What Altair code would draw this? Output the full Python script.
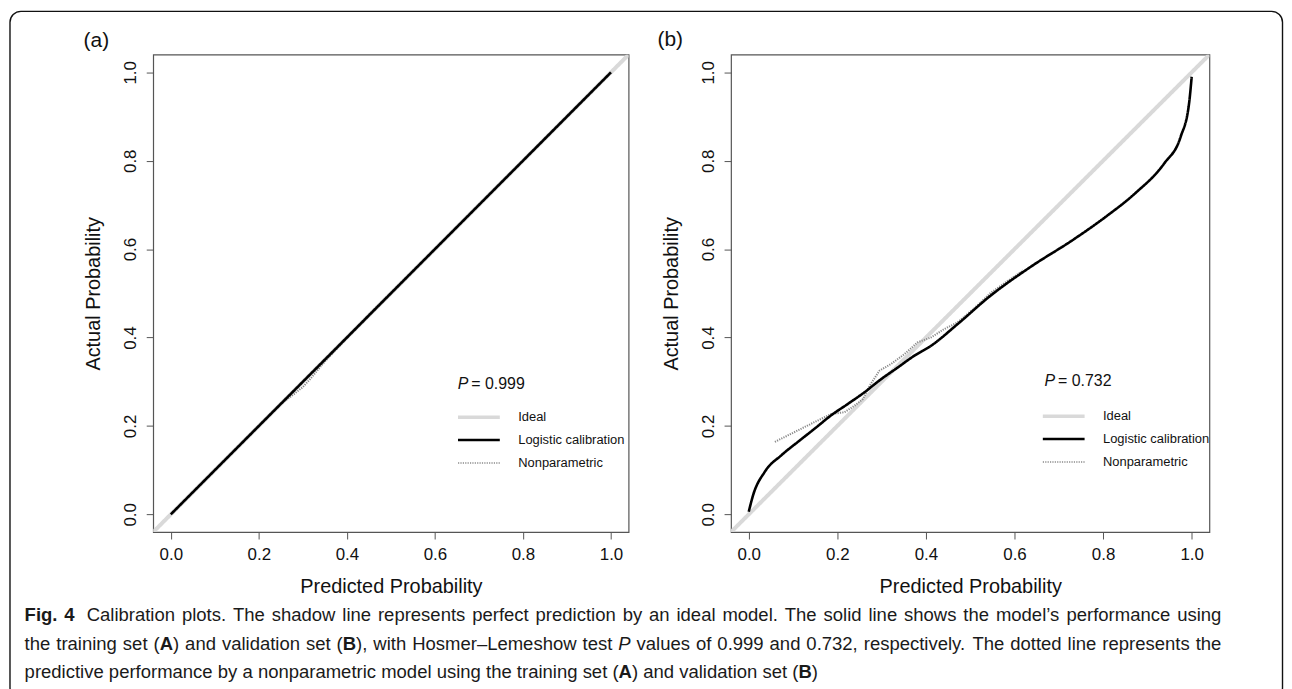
import re
import altair as alt
import pandas as pd

FONT = "Liberation Sans"

# ---------------- data ----------------
SERIES = ["Ideal", "Logistic calibration", "Nonparametric"]
SERIES_COLORS = ["#d9d9d9", "#000000", "#8a8a8a"]
SERIES_DASH = [[1, 0], [1, 0], [1.2, 1.2]]
TICKS = [0.0, 0.2, 0.4, 0.6, 0.8, 1.0]
DOMAIN = [-0.04, 1.04]

IDEAL_X = [-0.04, 1.04]
IDEAL_Y = [-0.04, 1.04]

A_LOGIT_X = [0.0, 1.0]
A_LOGIT_Y = [0.0, 1.0]
A_NP_X = [0.05, 0.15, 0.25, 0.28, 0.30, 0.32, 0.35, 0.45, 0.55, 0.65, 0.75, 0.85, 0.95]
A_NP_Y = [0.05, 0.15, 0.25, 0.272, 0.288, 0.31, 0.346, 0.452, 0.551, 0.65, 0.75, 0.85, 0.95]

B_LOGIT_X = [0.0, 0.01, 0.036, 0.074, 0.111, 0.149, 0.186, 0.224, 0.261, 0.299, 0.336,
             0.374, 0.411, 0.471, 0.545, 0.638, 0.732, 0.807, 0.872, 0.938, 0.975, 0.994, 1.0]
B_LOGIT_Y = [0.006, 0.044, 0.096, 0.134, 0.164, 0.194, 0.224, 0.25, 0.276, 0.306, 0.332,
             0.359, 0.381, 0.43, 0.494, 0.561, 0.621, 0.674, 0.726, 0.794, 0.854, 0.929, 0.99]
B_NP_X = [0.059, 0.111, 0.149, 0.186, 0.216, 0.239, 0.258, 0.273, 0.295, 0.321, 0.351,
          0.381, 0.411, 0.441, 0.471, 0.51, 0.545, 0.58, 0.62]
B_NP_Y = [0.164, 0.19, 0.209, 0.227, 0.231, 0.246, 0.261, 0.291, 0.325, 0.34, 0.362,
          0.389, 0.40, 0.419, 0.434, 0.467, 0.50, 0.525, 0.552]

P_VALUES = ["0.999", "0.732"]
PANEL_TAGS = ["(a)", "(b)"]

CAPTION_LINES = [
    "**Fig. 4**  Calibration plots. The shadow line represents perfect prediction by an ideal model. The solid line shows the model\u2019s performance using",
    "the training set (**A**) and validation set (**B**), with Hosmer\u2013Lemeshow test *P* values of 0.999 and 0.732, respectively. The dotted line represents the",
    "predictive performance by a nonparametric model using the training set (**A**) and validation set (**B**)",
]

# ---------------- text metrics (Arial / Liberation Sans, per 1000 em) ----------------
REG = {' ': 278, '(': 333, ')': 333, ',': 278, '.': 278, '\u2013': 556, '\u2019': 222,
       'A': 667, 'B': 667, 'C': 722, 'F': 611, 'H': 722, 'L': 556, 'P': 667, 'S': 667, 'T': 611,
       'a': 556, 'b': 556, 'c': 500, 'd': 556, 'e': 556, 'f': 278, 'g': 556, 'h': 556, 'i': 222,
       'j': 222, 'k': 500, 'l': 222, 'm': 833, 'n': 556, 'o': 556, 'p': 556, 'q': 556, 'r': 333,
       's': 500, 't': 278, 'u': 556, 'v': 500, 'w': 722, 'x': 500, 'y': 500, 'z': 500}
BOLD = {' ': 278, '.': 278, 'F': 611, 'i': 278, 'g': 611, 'A': 722, 'B': 722}


def cw(c, style):
    if style == 'b':
        return BOLD.get(c, 556) / 1000.0
    return REG.get(c, 556) / 1000.0


def parse(markup):
    chars = []
    for m in re.finditer(r'\*\*(.+?)\*\*|\*(.+?)\*|([^*]+)', markup):
        if m.group(1):
            chars += [(c, 'b') for c in m.group(1)]
        elif m.group(2):
            chars += [(c, 'i') for c in m.group(2)]
        else:
            chars += [(c, 'n') for c in m.group(3)]
    words, cur, nsp = [], [], 0
    for c, s in chars:
        if c == ' ':
            if cur:
                words.append((nsp, cur))
                cur, nsp = [], 0
            nsp += 1
        else:
            cur.append((c, s))
    if cur:
        words.append((nsp, cur))
    out = []
    for nsp, cs in words:
        segs = []
        for c, s in cs:
            if segs and segs[-1][1] == s:
                segs[-1][0] += c
            else:
                segs.append([c, s])
        out.append((nsp, segs))
    return out


CAP_LEFT, CAP_RIGHT = -129.3, 1074.0
CAP_BASE = [49.7, 78.2, 107.0]
parsed = [parse(l) for l in CAPTION_LINES]


def natural(words):
    w = 0.0
    for k, (nsp, segs) in enumerate(words):
        if k:
            w += nsp * REG[' '] / 1000.0
        w += sum(cw(c, s) for t, s in segs for c in t)
    return w


target = CAP_RIGHT - CAP_LEFT
CAP_SIZE = min(target / natural(parsed[0]), target / natural(parsed[1])) * 0.985

cap_rows = []
for li, words in enumerate(parsed):
    nat = natural(words) * CAP_SIZE
    extra = (target - nat) / (len(words) - 1) if li < 2 else 0.0
    x = CAP_LEFT
    for k, (nsp, segs) in enumerate(words):
        if k:
            x += nsp * REG[' '] / 1000.0 * CAP_SIZE + extra
        for t, s in segs:
            cap_rows.append({"x": x, "y": CAP_BASE[li], "text": t, "style": s})
            x += sum(cw(c, s) for c in t) * CAP_SIZE
cap_df = pd.DataFrame(cap_rows)


# ---------------- panels ----------------
def panel(logit_x, logit_y, np_x, np_y, p_value, tag, width, leg_x, leg_y, p_x, p_y, tag_x, tag_y):
    rows = []
    for name, xs, ys in [("Ideal", IDEAL_X, IDEAL_Y),
                         ("Logistic calibration", logit_x, logit_y),
                         ("Nonparametric", np_x, np_y)]:
        for x, y in zip(xs, ys):
            rows.append({"series": name, "x": x, "y": y})
    df = pd.DataFrame(rows)

    legend = alt.Legend(
        title=None, orient="none", legendX=leg_x, legendY=leg_y, direction="vertical",
        symbolType="stroke", symbolSize=1764, labelFont=FONT, labelFontSize=13,
        labelColor="#111111", labelOffset=33, rowPadding=9, padding=0, labelLimit=0,
        symbolStrokeWidth=alt.ExprRef(
            "datum.value == 'Ideal' ? 3.5 : (datum.value == 'Logistic calibration' ? 2.6 : 1.5)"),
    )
    enc = dict(
        x=alt.X("x:Q", scale=alt.Scale(domain=DOMAIN, nice=False, zero=False),
                axis=alt.Axis(values=TICKS, format=".1f", title="Predicted Probability")),
        y=alt.Y("y:Q", scale=alt.Scale(domain=DOMAIN, nice=False, zero=False),
                axis=alt.Axis(values=TICKS, format=".1f", title="Actual Probability")),
        color=alt.Color("series:N", scale=alt.Scale(domain=SERIES, range=SERIES_COLORS), legend=legend),
        strokeDash=alt.StrokeDash("series:N", scale=alt.Scale(domain=SERIES, range=SERIES_DASH), legend=legend),
    )
    base = alt.Chart(df)
    ideal = base.transform_filter(alt.datum.series == "Ideal").mark_line(strokeWidth=4, clip=True).encode(**enc)
    nonp = base.transform_filter(alt.datum.series == "Nonparametric").mark_line(strokeWidth=2).encode(**enc)
    logit = base.transform_filter(alt.datum.series == "Logistic calibration").mark_line(
        strokeWidth=2.6, interpolate="monotone").encode(**enc)

    tdf = pd.DataFrame({"p": ["P"], "rest": ["= " + p_value], "tag": [tag]})
    tbase = alt.Chart(tdf)
    p_it = tbase.mark_text(font=FONT, fontSize=16, fontStyle="italic", align="left",
                           baseline="alphabetic", color="#111111").encode(
        text="p:N", x=alt.value(p_x), y=alt.value(p_y))
    p_rest = tbase.mark_text(font=FONT, fontSize=16, align="left", baseline="alphabetic",
                             color="#111111").encode(
        text="rest:N", x=alt.value(p_x + 13.5), y=alt.value(p_y))
    tag_t = tbase.mark_text(font=FONT, fontSize=21, align="left", baseline="middle",
                            color="#111111").encode(
        text="tag:N", x=alt.value(tag_x), y=alt.value(tag_y))

    return alt.layer(ideal, nonp, logit, p_it, p_rest, tag_t).properties(
        width=width, height=480,
        view=alt.ViewBackground(stroke="#555555", strokeWidth=1.2))


pa = panel(A_LOGIT_X, A_LOGIT_Y, A_NP_X, A_NP_Y, P_VALUES[0], PANEL_TAGS[0], 478,
           321, 358, 306.3, 336.3, -70, -14)
pb = panel(B_LOGIT_X, B_LOGIT_Y, B_NP_X, B_NP_Y, P_VALUES[1], PANEL_TAGS[1], 481,
           328, 357, 315.3, 333.5, -74, -14.5)

# ---------------- caption + frame ----------------
cbase = alt.Chart(cap_df)
cx = alt.X("x:Q", scale=None, axis=None)
cy = alt.Y("y:Q", scale=None, axis=None)
cap_n = cbase.transform_filter(alt.datum.style == "n").mark_text(
    font=FONT, fontSize=CAP_SIZE, align="left", baseline="alphabetic", color="#1a1a1a").encode(
    x=cx, y=cy, text="text:N")
cap_b = cbase.transform_filter(alt.datum.style == "b").mark_text(
    font=FONT, fontSize=CAP_SIZE, fontWeight="bold", align="left", baseline="alphabetic",
    color="#1a1a1a").encode(x=cx, y=cy, text="text:N")
cap_i = cbase.transform_filter(alt.datum.style == "i").mark_text(
    font=FONT, fontSize=CAP_SIZE, fontStyle="italic", align="left", baseline="alphabetic",
    color="#1a1a1a").encode(x=cx, y=cy, text="text:N")

frame = alt.Chart(pd.DataFrame({"k": [0]})).mark_rect(
    fillOpacity=0, stroke="#111111", strokeWidth=1.4, cornerRadius=11).encode(
    x=alt.value(-144), x2=alt.value(1135.5), y=alt.value(-563.5), y2=alt.value(128))

caption = alt.layer(frame, cap_n, cap_b, cap_i).properties(
    width=1100, height=112, view=alt.ViewBackground(stroke="transparent"))

top = alt.hconcat(pa, pb, spacing=103, bounds="flush").resolve_scale(
    color="independent", strokeDash="independent").resolve_legend(
    color="independent", strokeDash="independent")
# the nested row counts as zero height in a flush layout, so the gap carries the panel height
chart = alt.vconcat(top, caption, spacing=520, bounds="flush").properties(
    padding={"left": 0, "top": 0, "right": 0, "bottom": 0})

chart = chart.configure_axis(
    grid=False, domain=False, ticks=True, tickSize=7, tickColor="#555555", tickWidth=1,
    labelFont=FONT, labelFontSize=17, labelColor="#111111", labelFlush=False, labelOverlap=False,
    titleFont=FONT, titleFontSize=20, titleFontWeight="normal", titleColor="#111111",
).configure_axisX(
    labelPadding=8, titleY=61, titleBaseline="alphabetic",
).configure_axisY(
    labelAngle=270, labelAlign="center", labelBaseline="alphabetic", labelPadding=11,
    titleX=-54, titleBaseline="alphabetic", titleAngle=270,
)

chart.save("out.html", embed_options={"renderer": "svg", "actions": False})
